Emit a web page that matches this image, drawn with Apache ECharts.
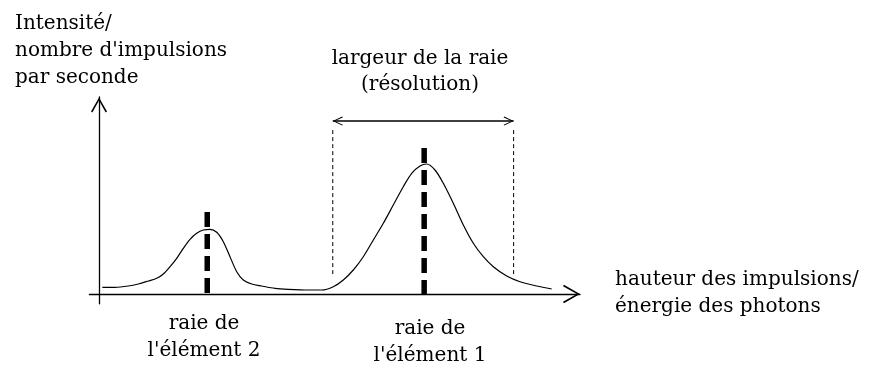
<!DOCTYPE html>
<html>
<head>
<meta charset="utf-8">
<script src="https://cdn.jsdelivr.net/npm/echarts@6/dist/echarts.min.js"></script>
<style>
  html, body { margin: 0; padding: 0; background: #fff; }
  #chart { width: 873px; height: 366px; }
</style>
</head>
<body>
<div id="chart"></div>
<script>
// Spectrum profile: pulse height (arbitrary units) and intensity (arbitrary units)
const pulseHeight = [0.69, 3.33, 6.09, 8.17, 10.25, 12.0, 13.37, 14.76, 16.15, 17.53, 18.92, 20.31, 21.68, 23.08,
                     24.47, 25.84, 27.23, 28.63, 30.0, 31.75, 33.83, 36.59, 39.36, 43.51, 46.3,
                     48.71, 50.79, 52.87, 54.95, 57.03, 59.11, 61.18, 63.26, 65.01, 66.74, 68.13, 69.85,
                     71.58, 73.66, 75.74, 77.82, 79.9, 81.98, 84.76, 87.53, 91.0, 94.12];
const intensity   = [3.4, 3.4, 4.06, 5.08, 6.6, 7.97, 10.15, 13.86, 18.12, 23.2, 27.77, 30.81, 32.49, 32.84,
                     31.32, 26.55, 18.93, 11.32, 7.11, 5.08, 4.06, 2.89, 2.39, 2.03, 2.03,
                     3.71, 7.11, 12.18, 18.93, 27.41, 35.89, 45.18, 54.47, 61.27, 64.97, 65.99, 62.94,
                     56.19, 46.04, 35.03, 25.74, 18.93, 13.86, 9.14, 6.24, 4.06, 2.54];

// Line positions of the two elements and the extent of each marker
const linePositions = [22.5, 67.6];          // element 2, element 1
const lineTops      = [41.6, 74.1];
const lineBottoms   = [-1.5, -4.1];

// Line width (resolution) bounds
const widthBounds  = [48.6, 86.2];
const widthTop     = 83.2;
const widthBottoms = [9.6, 8.6];
const widthArrowY  = 87.8;

// Axis ranges
const xRange = [-2, 100];
const yRange = [-5, 100];

const FONT = '"DejaVu Serif", serif';

// Open chevron heads (stroke drawn as thin filled outlines)
const ARROW_UP    = 'path://M10,0 L20,17.5 L18.3,18.5 L10,3.5 L1.7,18.5 L0,17.5 Z';
const ARROW_RIGHT = 'path://M20,10 L1.2,0 L0,2 L16,10 L0,18 L1.2,20 Z';
const ARROW_LEFT  = 'path://M0,10 L18.8,0 L20,2 L4,10 L20,18 L18.8,20 Z';

const spectrum = pulseHeight.map((x, i) => [x, intensity[i]]);

function markerSeries(i) {
  return {
    type: 'line',
    data: [[linePositions[i], lineTops[i]], [linePositions[i], lineBottoms[i]]],
    symbol: 'none',
    lineStyle: { color: '#000', width: 5.5, type: [15, 7], cap: 'butt' },
    silent: true
  };
}

function boundSeries(i) {
  return {
    type: 'line',
    data: [[widthBounds[i], widthTop], [widthBounds[i], widthBottoms[i]]],
    symbol: 'none',
    lineStyle: { color: '#000', width: 1, type: [4, 3] },
    silent: true
  };
}

const axisCommon = {
  type: 'value',
  axisTick: { show: false },
  axisLabel: { show: false },
  splitLine: { show: false }
};

const chart = echarts.init(document.getElementById('chart'), null, { renderer: 'canvas' });

chart.setOption({
  animation: false,
  backgroundColor: '#fff',
  grid: { left: 89.4, right: 293, top: 97, bottom: 62.15, containLabel: false },
  xAxis: Object.assign({}, axisCommon, {
    min: xRange[0], max: xRange[1],
    axisLine: {
      show: true, onZero: true,
      lineStyle: { color: '#000', width: 1.3 },
      symbol: ['none', ARROW_UP],
      symbolSize: [19, 17],
      symbolOffset: [0, -8.5]
    }
  }),
  yAxis: Object.assign({}, axisCommon, {
    min: yRange[0], max: yRange[1],
    axisLine: {
      show: true, onZero: true,
      lineStyle: { color: '#000', width: 1.3 },
      symbol: ['none', ARROW_UP],
      symbolSize: [16, 16],
      symbolOffset: [0, -8]
    }
  }),
  series: [
    {
      type: 'line',
      data: spectrum,
      smooth: 0.3,
      symbol: 'none',
      lineStyle: { color: '#000', width: 1.2 },
      silent: true
    },
    markerSeries(0),
    markerSeries(1),
    boundSeries(0),
    boundSeries(1),
    {
      type: 'line',
      data: [
        { value: [widthBounds[0], widthArrowY], symbol: ARROW_LEFT, symbolOffset: [5, 0] },
        { value: [widthBounds[1], widthArrowY], symbol: ARROW_RIGHT, symbolOffset: [-5, 0] }
      ],
      symbolSize: [10, 9],
      showSymbol: true,
      showAllSymbol: true,
      itemStyle: { color: '#000' },
      lineStyle: { color: '#000', width: 1.4 },
      silent: true
    }
  ],
  graphic: [
    {
      type: 'text', left: 15, top: 10,
      style: { text: 'Intensité/\nnombre d\'impulsions\npar seconde', font: '20px ' + FONT, lineHeight: 27, fill: '#000' }
    },
    {
      type: 'text', x: 420, y: 46,
      style: { text: 'largeur de la raie\n(résolution)', font: '20px ' + FONT, lineHeight: 26, fill: '#000', align: 'center', verticalAlign: 'top' }
    },
    {
      type: 'text', x: 615, y: 266,
      style: { text: 'hauteur des impulsions/\nénergie des photons', font: '20px ' + FONT, lineHeight: 27, fill: '#000', align: 'left', verticalAlign: 'top' }
    },
    {
      type: 'text', x: 204, y: 310,
      style: { text: 'raie de\nl\'élément 2', font: '20px ' + FONT, lineHeight: 27, fill: '#000', align: 'center', verticalAlign: 'top' }
    },
    {
      type: 'text', x: 430, y: 315,
      style: { text: 'raie de\nl\'élément 1', font: '20px ' + FONT, lineHeight: 27, fill: '#000', align: 'center', verticalAlign: 'top' }
    }
  ]
});
</script>
</body>
</html>
